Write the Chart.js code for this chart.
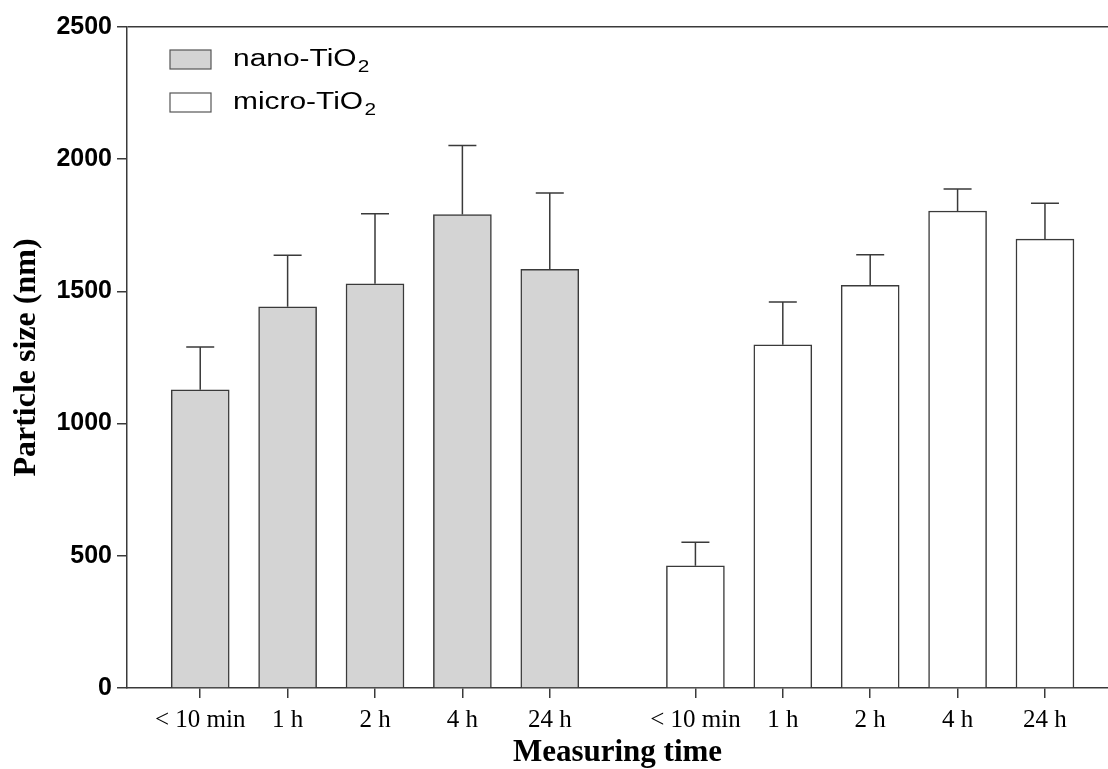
<!DOCTYPE html>
<html>
<head>
<meta charset="utf-8">
<script src="https://cdn.jsdelivr.net/npm/chart.js@4.4.1/dist/chart.umd.min.js"></script>
<style>
  body { margin: 0; background: #fff; }
  canvas { display: block; }
</style>
</head>
<body>
<canvas id="sizeChart" width="1108" height="769"></canvas>
<script>
// values (mean, upward SD)
const timeLabels = ['< 10 min', '1 h', '2 h', '4 h', '24 h'];
const seriesNames = ['nano-TiO\u2082', 'micro-TiO\u2082'];
const nanoMean = [1128, 1442, 1529, 1791, 1583];
const nanoSD = [162, 195, 265, 261, 289];
const microMean = [462, 1298, 1523, 1804, 1698];
const microSD = [89, 162, 116, 83, 135];
const yTicks = [0, 500, 1000, 1500, 2000, 2500];

// second group sits a bit more than one slot after the first
const groupShift = 5 + 2 / 3;
const nanoPts = nanoMean.map((v, i) => ({ x: i + 1, y: v }));
const microPts = microMean.map((v, i) => ({ x: i + 1 + groupShift, y: v }));
const tickPos = nanoPts.map(p => p.x).concat(microPts.map(p => p.x));
const allLabels = timeLabels.concat(timeLabels);

const lineCol = '#3a3a3a';

const errorBars = {
  id: 'errorBars',
  afterDatasetsDraw(chart) {
    const ctx = chart.ctx;
    const y = chart.scales.y;
    const sds = [nanoSD, microSD];
    ctx.save();
    ctx.strokeStyle = lineCol;
    ctx.lineWidth = 1.5;
    chart.data.datasets.forEach((ds, di) => {
      const meta = chart.getDatasetMeta(di);
      meta.data.forEach((bar, i) => {
        const top = y.getPixelForValue(ds.data[i].y + sds[di][i]);
        ctx.beginPath();
        ctx.moveTo(bar.x, bar.y);
        ctx.lineTo(bar.x, top);
        ctx.moveTo(bar.x - 14, top);
        ctx.lineTo(bar.x + 14, top);
        ctx.stroke();
      });
    });
    ctx.restore();
  }
};

// legend with a real subscript, drawn inside the plot
const subLegend = {
  id: 'subLegend',
  afterDraw(chart) {
    const ctx = chart.ctx;
    const a = chart.chartArea;
    ctx.save();
    chart.data.datasets.forEach((ds, i) => {
      const bx = a.left + 43, by = a.top + 23 + i * 43;
      ctx.fillStyle = ds.backgroundColor;
      ctx.fillRect(bx, by, 41, 19);
      ctx.strokeStyle = '#555';
      ctx.lineWidth = 1.2;
      ctx.strokeRect(bx, by, 41, 19);

      const base = ds.label.replace('\u2082', '');
      ctx.fillStyle = '#000';
      ctx.textBaseline = 'alphabetic';
      ctx.save();
      ctx.translate(bx + 63, by + 16);
      ctx.scale(1.3, 1);
      ctx.font = '23px "Liberation Sans", Arial, sans-serif';
      ctx.fillText(base, 0, 0);
      const w = ctx.measureText(base).width;
      ctx.font = '16px "Liberation Sans", Arial, sans-serif';
      ctx.fillText('2', w + 1, 6);
      ctx.restore();
    });
    ctx.restore();
  }
};

const chart = new Chart(document.getElementById('sizeChart').getContext('2d'), {
  type: 'bar',
  data: {
    datasets: [
      { label: seriesNames[0], data: nanoPts, backgroundColor: '#d4d4d4', borderColor: lineCol, borderWidth: 1.5 },
      { label: seriesNames[1], data: microPts, backgroundColor: '#ffffff', borderColor: lineCol, borderWidth: 1.5 }
    ]
  },
  options: {
    responsive: false,
    animation: false,
    layout: { padding: { top: 27, left: 0, right: 0, bottom: 0 } },
    datasets: { bar: { barThickness: 58, grouped: false } },
    plugins: { legend: { display: false }, tooltip: { enabled: false } },
    scales: {
      x: {
        type: 'linear',
        min: 0.162,
        max: 11.388,
        offset: false,
        afterBuildTicks: s => { s.ticks = tickPos.map(v => ({ value: v })); },
        afterFit: s => { s.height = 81; },
        ticks: {
          autoSkip: false,
          maxRotation: 0,
          padding: 7,
          color: '#000',
          font: { family: '"Liberation Serif", "Times New Roman", serif', size: 25 },
          callback: (v, i) => allLabels[i]
        },
        grid: { drawOnChartArea: false, offset: false, color: lineCol, tickLength: 10, lineWidth: 1.5 },
        border: { color: lineCol, width: 1.5 },
        title: {
          display: true,
          text: 'Measuring time',
          color: '#000',
          padding: { top: 0, bottom: 1 },
          font: { family: '"Liberation Serif", "Times New Roman", serif', size: 31, weight: 'bold', lineHeight: 1 }
        }
      },
      y: {
        min: 0,
        max: 2500,
        afterBuildTicks: s => { s.ticks = yTicks.map(v => ({ value: v })); },
        afterFit: s => { s.width = 127; },
        ticks: {
          padding: 5,
          color: '#000',
          font: { family: '"Liberation Sans", Arial, sans-serif', size: 25, weight: 'bold' },
          callback: v => String(v)
        },
        grid: {
          color: c => (c.tick && c.tick.value === 2500) ? lineCol : 'rgba(0,0,0,0)',
          tickColor: lineCol,
          tickLength: 10,
          lineWidth: 1.5,
          tickWidth: 1.5
        },
        border: { color: lineCol, width: 1.5 },
        title: {
          display: true,
          text: 'Particle size (nm)',
          color: '#000',
          padding: { top: 11, bottom: 0 },
          font: { family: '"Liberation Serif", "Times New Roman", serif', size: 32, weight: 'bold', lineHeight: 1 }
        }
      }
    }
  },
  plugins: [errorBars, subLegend]
});
</script>
</body>
</html>
